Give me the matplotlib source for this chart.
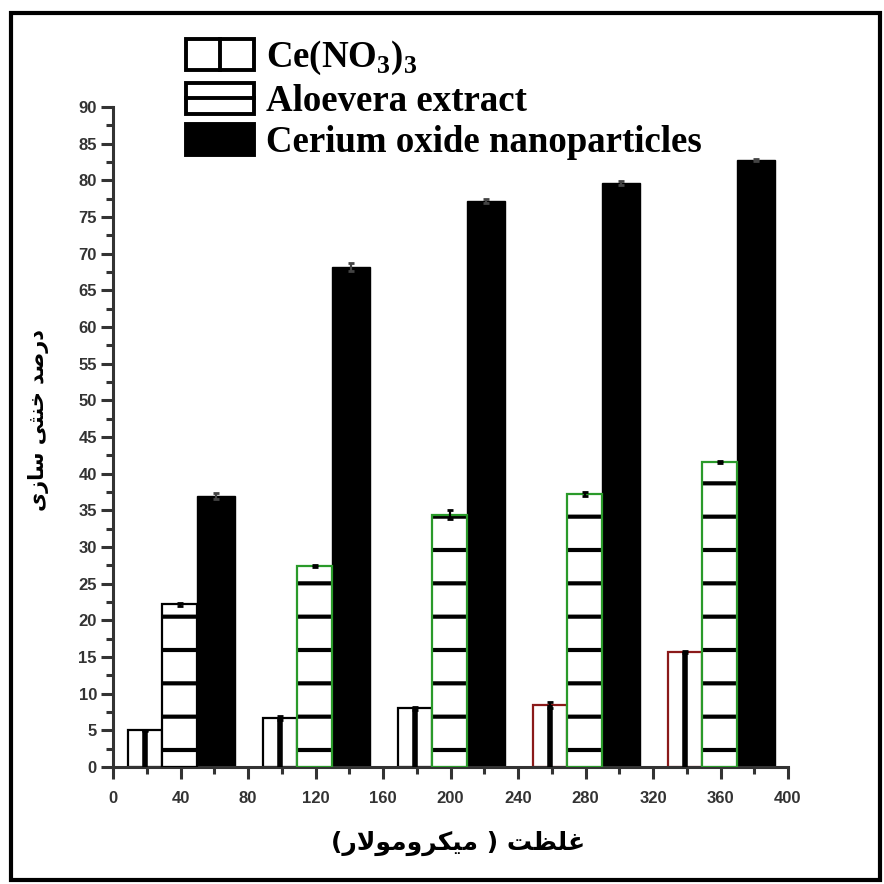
import numpy as np
import matplotlib.pyplot as plt
from matplotlib.patches import Rectangle
from matplotlib.lines import Line2D
from matplotlib.legend_handler import HandlerBase
from matplotlib.ticker import MultipleLocator

# data (concentration in micromolar, % neutralisation)
conc = [40, 120, 200, 280, 360]
ce_no3 = [5.0, 6.7, 8.0, 8.5, 15.7]
ce_no3_err = [0.1, 0.3, 0.2, 0.4, 0.1]
aloe = [22.2, 27.4, 34.4, 37.2, 41.6]
aloe_err = [0.2, 0.1, 0.6, 0.3, 0.1]
ceo2 = [36.9, 68.2, 77.2, 79.6, 82.8]
ceo2_err = [0.4, 0.5, 0.3, 0.3, 0.1]
series_names = ['Ce(NO$_{\\mathrm{3}}$)$_{\\mathrm{3}}$', 'Aloevera extract',
                'Cerium oxide nanoparticles']

# persian labels, written as presentation forms in visual order
xlabel = '(' + '\uFEAD\uFEFB\uFEEE\uFEE3\uFEED\uFEAE\uFB91\uFBFF\uFEE3' + ' ) ' + '\uFE96\uFEC8\uFEE0\uFECF'
ylabel = '\uFBFC\uFEAF\uFE8E\uFEB3' + ' ' + '\uFBFD\uFE9C\uFEE8\uFEA7' + ' ' + '\uFEAA\uFEBB\uFEAD\uFEA9'

plt.rcParams['hatch.linewidth'] = 1.5
plt.rcParams['mathtext.fontset'] = 'custom'
plt.rcParams['mathtext.rm'] = 'Liberation Serif:bold'
plt.rcParams['mathtext.bf'] = 'Liberation Serif:bold'

W = 884
fig = plt.figure(figsize=(4.42, 4.42), dpi=200)
ax = fig.add_axes([113/W, 1-767/W, (788-113)/W, (767-107)/W])

x = np.array(conc, dtype=float)
ce_col = ['black', 'black', 'black', '#8b1a1a', '#8b1a1a']
aloe_col = ['black', '#2a9a2a', '#2a9a2a', '#2a9a2a', '#2a9a2a']

# Ce(NO3)3: white bars with a single vertical stripe
ax.bar(x-21, ce_no3, width=20, color='white', edgecolor=ce_col, linewidth=0.8, zorder=2)
ax.vlines(x-21, 0, ce_no3, color='black', linewidth=2.0, zorder=3)
ax.errorbar(x-21, ce_no3, yerr=ce_no3_err, fmt='none', ecolor='black',
            elinewidth=0.8, capsize=1.2, zorder=4)

# aloe vera: horizontal hatch
ax.bar(x-0.5, aloe, width=21, color='white', edgecolor='black', linewidth=0, hatch='-', zorder=2)
ax.bar(x-0.5, aloe, width=21, fill=False, edgecolor=aloe_col, linewidth=0.8, zorder=3)
ax.errorbar(x-0.5, aloe, yerr=aloe_err, fmt='none', ecolor='black',
            elinewidth=0.8, capsize=1.2, zorder=4)

# cerium oxide nanoparticles: solid black
ax.bar(x+21, ceo2, width=22, color='black', edgecolor='black', linewidth=0.5, zorder=2)
ax.errorbar(x+21, ceo2, yerr=ceo2_err, fmt='none', ecolor='#444444',
            elinewidth=0.8, capsize=1.2, zorder=4)

ax.set_xlim(0, 400)
ax.set_ylim(0, 90)
ax.spines['top'].set_visible(False)
ax.spines['right'].set_visible(False)
for s in ['left', 'bottom']:
    ax.spines[s].set_linewidth(1.1)
    ax.spines[s].set_color('#333333')
ax.xaxis.set_major_locator(MultipleLocator(40))
ax.xaxis.set_minor_locator(MultipleLocator(20))
ax.yaxis.set_major_locator(MultipleLocator(5))
ax.yaxis.set_minor_locator(MultipleLocator(2.5))
ax.tick_params(which='major', length=4.3, width=1.1, color='#333333', labelsize=6,
               labelcolor='#333333')
ax.tick_params(which='minor', length=2.4, width=1.1, color='#333333')
ax.tick_params(axis='y', pad=1.5)
ax.tick_params(axis='x', pad=4.5)
for lab in ax.get_xticklabels() + ax.get_yticklabels():
    lab.set_family('Liberation Sans')
    lab.set_fontweight('bold')


class BoxHandler(HandlerBase):
    def __init__(self, stripe):
        super().__init__()
        self.stripe = stripe

    def create_artists(self, legend, orig_handle, xd, yd, w, h, fontsize, trans):
        x0, y0 = -xd, -yd
        box = Rectangle((x0, y0), w, h, facecolor=orig_handle.get_facecolor(),
                        edgecolor='black', linewidth=1.4, transform=trans)
        arts = [box]
        if self.stripe == 'v':
            arts.append(Line2D([x0+w/2, x0+w/2], [y0, y0+h], color='black', lw=1.4, transform=trans))
        elif self.stripe == 'h':
            arts.append(Line2D([x0, x0+w], [y0+h/2, y0+h/2], color='black', lw=1.4, transform=trans))
        return arts


h1 = Rectangle((0, 0), 1, 1, facecolor='white')
h2 = Rectangle((0, 0), 1, 1, facecolor='white')
h3 = Rectangle((0, 0), 1, 1, facecolor='black')
leg = fig.legend([h1, h2, h3], series_names,
                 handler_map={h1: BoxHandler('v'), h2: BoxHandler('h'), h3: BoxHandler(None)},
                 loc='upper left', bbox_to_anchor=(186/W, 1-39/W), bbox_transform=fig.transFigure,
                 frameon=False, borderpad=0, borderaxespad=0,
                 handlelength=1.83, handleheight=0.92, labelspacing=0.14, handletextpad=0.33,
                 prop={'family': 'Liberation Serif', 'weight': 'bold', 'size': 13.3})

fig.text(458/W, 1-843/W, xlabel, ha='center', va='center', fontsize=9,
         family='DejaVu Sans', fontweight='bold', color='black')
fig.text(39/W, 1-420/W, ylabel, ha='center', va='center', rotation=90, fontsize=7.5,
         family='DejaVu Sans', fontweight='bold', color='black')

# outer frame around the whole picture
fig.add_artist(Rectangle((11/W, 4/W), (880-11)/W, (871-4)/W, transform=fig.transFigure,
                         fill=False, edgecolor='black', linewidth=1.5))

fig.savefig('out.png', dpi=200)
